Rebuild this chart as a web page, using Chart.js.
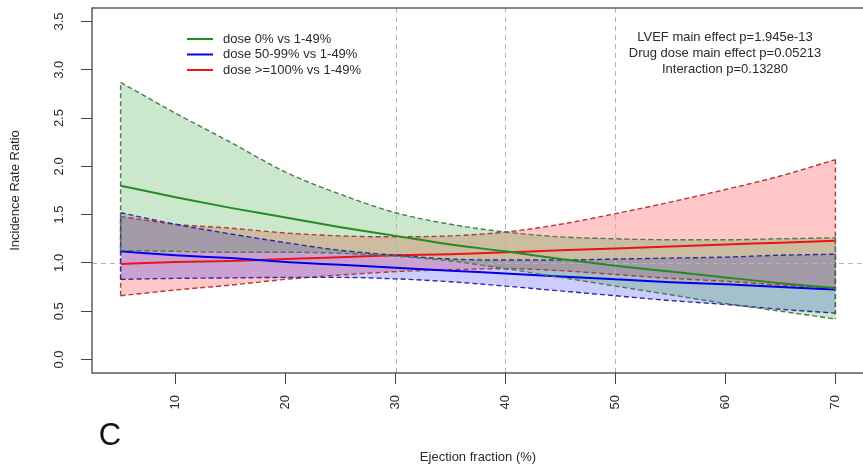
<!DOCTYPE html>
<html lang="en">
<head>
<meta charset="utf-8">
<title>Incidence Rate Ratio by ejection fraction</title>
<script src="https://cdn.jsdelivr.net/npm/chart.js@4.4.1/dist/chart.umd.min.js"></script>
<style>
  html, body { margin: 0; padding: 0; background: #fff; overflow: hidden; }
  #holder { width: 870px; height: 465px; }
</style>
</head>
<body>
<div id="holder"><canvas id="chart"></canvas></div>
<script>
// ejection fraction grid the curves were read at
const ef = [5, 10, 15, 20, 25, 30, 35, 40, 45, 50, 55, 60, 65, 70];

const xTicks = [10, 20, 30, 40, 50, 60, 70];
const yTicks = [0, 0.5, 1, 1.5, 2, 2.5, 3, 3.5];
const refX = [30, 40, 50];
const refY = 1;

const seriesNames = ['dose 0% vs 1-49%', 'dose 50-99% vs 1-49%', 'dose >=100% vs 1-49%'];

// dose 0% vs 1-49%
const greenEst = [1.80, 1.68, 1.57, 1.47, 1.37, 1.28, 1.19, 1.12, 1.04, 0.97, 0.91, 0.85, 0.79, 0.74];
const greenHi  = [2.87, 2.55, 2.25, 1.94, 1.71, 1.52, 1.40, 1.32, 1.27, 1.25, 1.24, 1.24, 1.25, 1.26];
const greenLo  = [1.13, 1.12, 1.11, 1.11, 1.10, 1.07, 1.02, 0.94, 0.85, 0.76, 0.67, 0.58, 0.50, 0.42];

// dose 50-99% vs 1-49%
const blueEst = [1.12, 1.08, 1.05, 1.01, 0.98, 0.95, 0.92, 0.89, 0.86, 0.83, 0.80, 0.78, 0.75, 0.725];
const blueHi  = [1.52, 1.40, 1.30, 1.21, 1.13, 1.08, 1.04, 1.03, 1.03, 1.04, 1.05, 1.06, 1.08, 1.09];
const blueLo  = [0.83, 0.84, 0.845, 0.85, 0.85, 0.835, 0.805, 0.76, 0.71, 0.66, 0.61, 0.57, 0.52, 0.48];

// dose >=100% vs 1-49%
const redEst = [0.99, 1.01, 1.02, 1.04, 1.06, 1.08, 1.09, 1.11, 1.13, 1.15, 1.17, 1.19, 1.21, 1.23];
const redHi  = [1.48, 1.40, 1.36, 1.31, 1.28, 1.27, 1.28, 1.32, 1.40, 1.51, 1.63, 1.76, 1.90, 2.07];
const redLo  = [0.66, 0.72, 0.77, 0.83, 0.875, 0.91, 0.93, 0.94, 0.92, 0.88, 0.84, 0.81, 0.77, 0.74];

const statLines = ['LVEF main effect p=1.945e-13', 'Drug dose main effect p=0.05213', 'Interaction p=0.13280'];
const xTitle = 'Ejection fraction (%)';
const yTitle = 'Incidence Rate Ratio';
const panelLetter = 'C';

const FONT = '"Liberation Sans", Arial, Helvetica, sans-serif';
Chart.defaults.font.family = FONT;
Chart.defaults.font.size = 13;
Chart.defaults.color = '#2a2a2a';

const colors = [
  { line: 'rgb(34,139,34)', dash: '#4a7a4a', fill: 'rgba(0,140,0,0.2)' },
  { line: 'rgb(0,0,235)',   dash: '#2c2ca0', fill: 'rgba(0,0,255,0.2)' },
  { line: 'rgb(235,20,20)', dash: '#b03a3a', fill: 'rgba(255,0,0,0.22)' }
];

function pts(arr) {
  return ef.map((x, i) => ({ x: x, y: arr[i] }));
}

function band(name, est, lo, hi, c) {
  const n = ef.length - 1;
  const dashed = {
    borderColor: c.dash, borderWidth: 1.4, borderDash: [5, 3],
    pointRadius: 0, cubicInterpolationMode: 'monotone'
  };
  return [
    Object.assign({ label: name + ' upper', data: pts(hi), fill: '+1', backgroundColor: c.fill }, dashed),
    Object.assign({ label: name + ' lower', data: pts(lo), fill: false }, dashed),
    { label: name, data: pts(est), borderColor: c.line, borderWidth: 2, pointRadius: 0,
      fill: false, cubicInterpolationMode: 'monotone' },
    { label: name + ' ends', fill: false, borderColor: c.dash, borderWidth: 1.4, borderDash: [5, 3],
      pointRadius: 0, tension: 0, spanGaps: false,
      data: [{ x: ef[0], y: lo[0] }, { x: ef[0], y: hi[0] }, { x: ef[n], y: null },
             { x: ef[n], y: hi[n] }, { x: ef[n], y: lo[n] }] }
  ];
}

const datasets = [].concat(
  band(seriesNames[0], greenEst, greenLo, greenHi, colors[0]),
  band(seriesNames[1], blueEst, blueLo, blueHi, colors[1]),
  band(seriesNames[2], redEst, redLo, redHi, colors[2])
);

const decor = {
  id: 'decor',
  beforeDatasetsDraw(chart) {
    const { ctx, chartArea: a, scales: { x, y } } = chart;
    ctx.save();
    ctx.strokeStyle = '#b4b4b4';
    ctx.lineWidth = 1;
    ctx.setLineDash([5, 4]);
    refX.forEach(v => {
      const px = Math.round(x.getPixelForValue(v)) + 0.5;
      ctx.beginPath(); ctx.moveTo(px, a.top); ctx.lineTo(px, a.bottom); ctx.stroke();
    });
    const py = Math.round(y.getPixelForValue(refY)) + 0.5;
    ctx.beginPath(); ctx.moveTo(a.left, py); ctx.lineTo(a.right, py); ctx.stroke();
    ctx.restore();
  },
  afterDraw(chart) {
    const { ctx, chartArea: a } = chart;
    ctx.save();
    // box round the plot
    ctx.strokeStyle = '#444';
    ctx.lineWidth = 1.3;
    ctx.strokeRect(a.left, a.top, a.right - a.left, a.bottom - a.top);

    // legend
    ctx.font = '13px ' + FONT;
    ctx.textBaseline = 'middle';
    ctx.textAlign = 'left';
    const legY = [39, 54.5, 70];
    seriesNames.forEach((name, i) => {
      ctx.strokeStyle = colors[i].line;
      ctx.lineWidth = 2;
      ctx.beginPath(); ctx.moveTo(187, legY[i]); ctx.lineTo(213, legY[i]); ctx.stroke();
      ctx.fillStyle = '#2a2a2a';
      ctx.fillText(name, 223, legY[i]);
    });

    // p-values
    ctx.textAlign = 'center';
    statLines.forEach((t, i) => ctx.fillText(t, 725, 37 + i * 16));

    // panel letter
    ctx.font = '31px ' + FONT;
    ctx.textBaseline = 'alphabetic';
    ctx.fillStyle = '#111';
    ctx.fillText(panelLetter, 110, 445);
    ctx.restore();
  }
};

new Chart(document.getElementById('chart'), {
  type: 'line',
  data: { datasets: datasets },
  options: {
    responsive: true,
    maintainAspectRatio: false,
    animation: false,
    events: [],
    layout: { padding: { top: 8, right: 6, bottom: 0, left: 0 } },
    plugins: {
      legend: { display: false },
      tooltip: { enabled: false },
      filler: { drawTime: 'beforeDatasetsDraw' }
    },
    scales: {
      x: {
        type: 'linear',
        min: 2.4,
        max: 72.6,
        afterBuildTicks: s => { s.ticks = xTicks.map(v => ({ value: v })); },
        afterFit: s => { s.height = 92; s.paddingLeft = 0; s.paddingRight = 0; },
        grid: { drawOnChartArea: false, tickLength: 11, color: '#444' },
        border: { display: false },
        ticks: { minRotation: 90, maxRotation: 90, padding: 11, autoSkip: false,
                 callback: v => String(v) },
        title: { display: true, text: xTitle, padding: { top: 0, bottom: 0 } }
      },
      y: {
        type: 'linear',
        min: -0.14,
        max: 3.64,
        afterBuildTicks: s => { s.ticks = yTicks.map(v => ({ value: v })); },
        afterFit: s => { s.width = 92; s.paddingTop = 0; s.paddingBottom = 0; },
        grid: { drawOnChartArea: false, tickLength: 11, color: '#444' },
        border: { display: false },
        ticks: { minRotation: 90, maxRotation: 90, crossAlign: 'center', padding: 13,
                 autoSkip: false, callback: v => v.toFixed(1) },
        title: { display: true, text: yTitle, padding: { top: 8, bottom: 0 } }
      }
    }
  },
  plugins: [decor]
});
</script>
</body>
</html>
